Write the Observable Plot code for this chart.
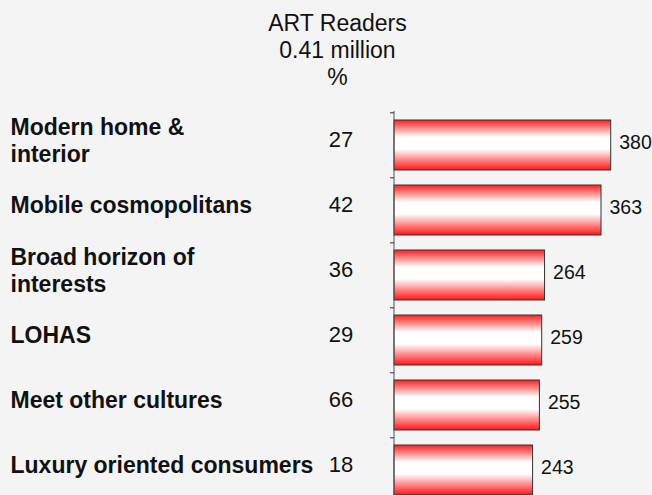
<!DOCTYPE html>
<html>
<head>
<meta charset="utf-8">
<script src="https://cdn.jsdelivr.net/npm/d3@7"></script>
<script src="https://cdn.jsdelivr.net/npm/@observablehq/plot@0.6"></script>
<style>
  html, body { margin: 0; padding: 0; background: #f4f4f4; }
  body { width: 652px; height: 495px; overflow: hidden; font-family: "Liberation Sans", Arial, sans-serif; }
  #title { box-sizing: border-box; width: 652px; height: 100px; padding-top: 10.4px; padding-left: 23px;
           text-align: center; font-size: 23px; line-height: 26.7px; color: #111; }
</style>
</head>
<body>
<div id="title">ART Readers<br>0.41 million<br>%</div>
<div id="chart"></div>
<script>
const categories = ["Modern home &\ninterior", "Mobile cosmopolitans", "Broad horizon of\ninterests", "LOHAS", "Meet other cultures", "Luxury oriented consumers"];
const readersPct = [27, 42, 36, 29, 66, 18];
const indexValues = [380, 363, 264, 259, 255, 243];

const data = categories.map((c, i) => ({name: c, pct: readersPct[i], value: indexValues[i]}));

const yRange = [11, 403.4];
const step = (yRange[1] - yRange[0]) / categories.length;

const svg = Plot.plot({
  width: 652,
  height: 395,
  marginTop: 11,
  marginBottom: 0,
  marginLeft: 10,
  marginRight: 0,
  style: {background: "#f4f4f4", fontFamily: "Liberation Sans, Arial, sans-serif", color: "#111"},
  x: {domain: [0, 380], range: [394, 610.7], axis: null},
  y: {domain: categories, range: yRange, paddingInner: 0.235, paddingOuter: 0.1175, axis: null},
  marks: [
    Plot.barX(data, {y: "name", x: "value", fill: "url(#artGrad)", stroke: "#333", strokeWidth: 1}),
    Plot.ruleX([0], {stroke: "#555", strokeWidth: 1, dx: -0.5}),
    Plot.ruleY(categories, {y: d => d, x1: -7, x2: 0, dy: -step / 2, stroke: "#333", strokeWidth: 1}),
    Plot.text(data, {y: "name", x: "value", text: d => String(d.value), dx: 8, dy: -3, textAnchor: "start", fontSize: 19.5, fill: "#111"}),
    Plot.text(data, {y: "name", text: "name", frameAnchor: "left", textAnchor: "start", fontWeight: "bold", fontSize: 23, lineHeight: 1.19, dy: -6, fill: "#111"}),
    Plot.text(data, {y: "name", text: d => String(d.pct), frameAnchor: "left", dx: 330.5, textAnchor: "middle", fontSize: 22, dy: -6, fill: "#111"})
  ]
});

const defs = d3.select(svg).insert("defs", ":first-child");
const g = defs.append("linearGradient").attr("id", "artGrad").attr("x1", 0).attr("y1", 0).attr("x2", 0).attr("y2", 1);
[[0, "#ff1e1e"], [0.34, "#ffffff"], [0.58, "#ffffff"], [1, "#ff1414"]].forEach(([o, c]) =>
  g.append("stop").attr("offset", o).attr("stop-color", c));

document.getElementById("chart").appendChild(svg);
</script>
</body>
</html>
